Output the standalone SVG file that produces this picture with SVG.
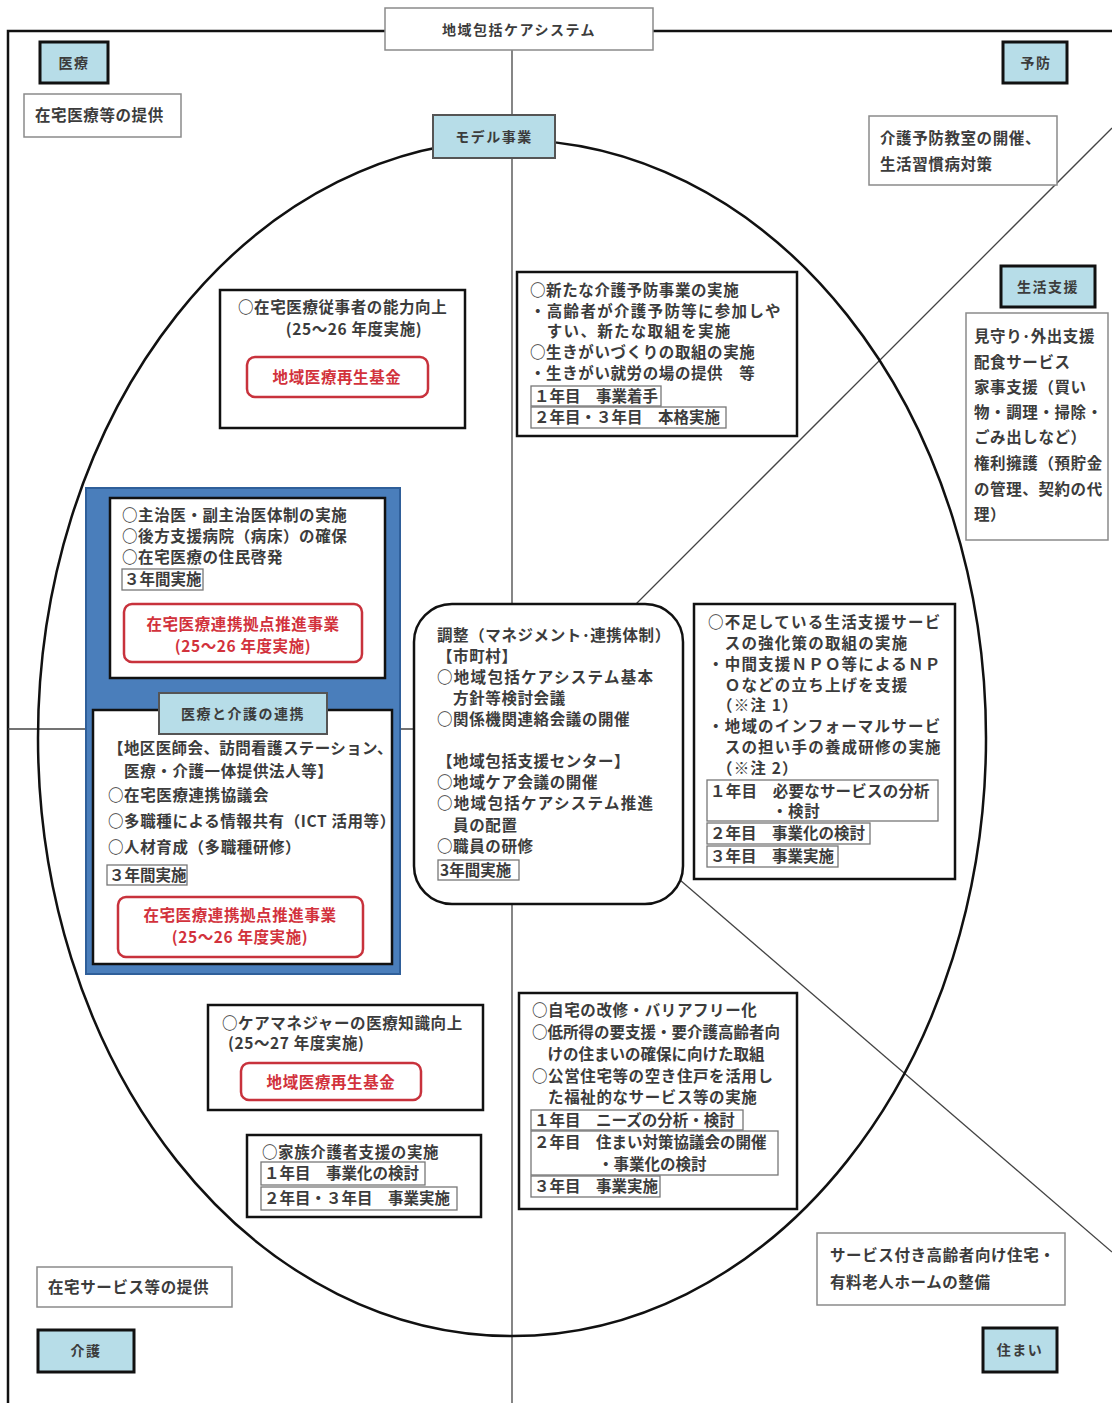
<svg xmlns="http://www.w3.org/2000/svg" width="1112" height="1403" viewBox="0 0 1112 1403">
<style>
text{font-family:"Noto Sans CJK JP","Noto Sans CJK SC",sans-serif;font-size:15.5px;font-weight:bold;fill:#3c3c3c;letter-spacing:0.6px}
.c{text-anchor:middle}
.r{fill:#d2323c}
.s{font-size:14px;letter-spacing:1.5px}
.lbl{fill:#b7dde8;stroke:#111;stroke-width:3}
.lbl2{fill:#b7dde8;stroke:#555;stroke-width:2}
.box{fill:#fff;stroke:#111;stroke-width:2.5}
.note{fill:#fff;stroke:#8a8a8a;stroke-width:1.5}
.sub{fill:none;stroke:#777;stroke-width:1.3}
.red{fill:#fff;stroke:#c8323c;stroke-width:2.5}
.ln{stroke:#444;stroke-width:1.3;fill:none}
.frame{stroke:#111;stroke-width:2.5;fill:none}
</style>
<g id="connectors">
<path class="frame" d="M8,1403 V31 H385 M653,31 H1112"/>
<path class="ln" d="M512,50 V1403"/>
<path class="ln" d="M8,729 H414"/>
<path class="ln" d="M1112,128 L636,604"/>
<path class="ln" d="M680,880 L1112,1252"/>
<ellipse cx="512" cy="738" rx="474" ry="598" fill="none" stroke="#111" stroke-width="2.5"/>
</g>
<g id="title"><rect x="385" y="8" width="268" height="42" class="note"/><text x="519" y="35" class="c s">地域包括ケアシステム</text></g>
<g id="iryo"><rect x="40" y="42" width="68" height="41" class="lbl"/><text x="74" y="68" class="c s">医療</text></g>
<g id="iryo-note"><rect x="24" y="94" width="157" height="43" class="note"/><text x="35" y="121">在宅医療等の提供</text></g>
<g id="model"><rect x="433" y="115" width="122" height="43" class="lbl2"/><text x="494" y="142" class="c s">モデル事業</text></g>
<g id="yobo"><rect x="1003" y="42" width="64" height="41" class="lbl"/><text x="1036" y="68" class="c s">予防</text></g>
<g id="yobo-note"><rect x="869" y="116" width="188" height="69" class="note"/><text x="880" y="144">介護予防教室の開催、</text><text x="880" y="170">生活習慣病対策</text></g>
<g id="seikatsu"><rect x="1001" y="266" width="94" height="41" class="lbl"/><text x="1048" y="292" class="c s">生活支援</text></g>
<g id="seikatsu-note"><rect x="966" y="313" width="142" height="227" class="note"/>
<text x="974" y="342">見守り･外出支援</text><text x="974" y="368">配食サービス</text><text x="974" y="393">家事支援（買い</text><text x="974" y="418">物・調理・掃除・</text><text x="974" y="443">ごみ出しなど）</text><text x="974" y="469">権利擁護（預貯金</text><text x="974" y="495">の管理、契約の代</text><text x="974" y="520">理）</text></g>
<g id="box-zaitaku">
<rect x="220" y="290" width="245" height="138" class="box"/>
<text x="238" y="313">○在宅医療従事者の能力向上</text>
<text x="354" y="335" class="c">(25～26 年度実施)</text>
<rect x="247" y="357" width="181" height="40" rx="8" class="red"/>
<text x="337" y="383" class="c r">地域医療再生基金</text>
</g>
<g id="box-yobo">
<rect x="517" y="272" width="280" height="164" class="box"/>
<text x="530" y="296">○新たな介護予防事業の実施</text>
<text x="530" y="317" style="letter-spacing:1.3px">・高齢者が介護予防等に参加しや</text>
<text x="530" y="337" style="letter-spacing:1.3px">　すい、新たな取組を実施</text>
<text x="530" y="358">○生きがいづくりの取組の実施</text>
<text x="530" y="379">・生きがい就労の場の提供　等</text>
<rect x="531" y="386" width="130" height="20" class="sub"/><text x="534" y="402" style="letter-spacing:0">１年目　事業着手</text>
<rect x="531" y="407" width="195" height="21" class="sub"/><text x="534" y="423" style="letter-spacing:0">２年目・３年目　本格実施</text>
</g>
<g id="box-renkei">
<rect x="86" y="488" width="314" height="486" fill="#4a7ebb" stroke="#2f5f9a" stroke-width="2"/>
<rect x="110" y="498" width="275" height="180" class="box"/>
<text x="122" y="521">○主治医・副主治医体制の実施</text>
<text x="122" y="542">○後方支援病院（病床）の確保</text>
<text x="122" y="563">○在宅医療の住民啓発</text>
<rect x="122" y="569" width="81" height="21" class="sub"/><text x="124" y="585" style="letter-spacing:0">３年間実施</text>
<rect x="124" y="604" width="238" height="58" rx="8" class="red"/>
<text x="243" y="630" class="c r">在宅医療連携拠点推進事業</text>
<text x="243" y="652" class="c r">(25～26 年度実施)</text>
<rect x="93" y="710" width="299" height="254" class="box"/>
<text x="108" y="754" style="letter-spacing:0.4px">【地区医師会、訪問看護ステーション、</text>
<text x="108" y="777">　医療・介護一体提供法人等】</text>
<text x="108" y="801">○在宅医療連携協議会</text>
<text x="108" y="827">○多職種による情報共有（ICT 活用等）</text>
<text x="108" y="853">○人材育成（多職種研修）</text>
<rect x="107" y="865" width="80" height="20" class="sub"/><text x="109" y="881" style="letter-spacing:0">３年間実施</text>
<rect x="118" y="897" width="245" height="60" rx="8" class="red"/>
<text x="240" y="921" class="c r">在宅医療連携拠点推進事業</text>
<text x="240" y="943" class="c r">(25～26 年度実施)</text>
<rect x="159" y="693" width="168" height="41" class="lbl2" stroke="#222"/>
<text x="243" y="719" class="c s">医療と介護の連携</text>
</g>
<g id="box-chosei">
<rect x="414" y="604" width="269" height="300" rx="38" class="box"/>
<text x="437" y="641">調整（マネジメント･連携体制）</text>
<text x="437" y="662">【市町村】</text>
<text x="437" y="683" style="letter-spacing:1.3px">○地域包括ケアシステム基本</text>
<text x="437" y="704">　方針等検討会議</text>
<text x="437" y="725">○関係機関連絡会議の開催</text>
<text x="437" y="767">【地域包括支援センター】</text>
<text x="437" y="788">○地域ケア会議の開催</text>
<text x="437" y="809" style="letter-spacing:1.3px">○地域包括ケアシステム推進</text>
<text x="437" y="831">　員の配置</text>
<text x="437" y="852">○職員の研修</text>
<rect x="438" y="860" width="81" height="20" class="sub"/><text x="440" y="876" style="letter-spacing:0">3年間実施</text>
</g>
<g id="box-fusoku">
<rect x="694" y="604" width="261" height="275" class="box" stroke-width="3"/>
<text x="708" y="628" style="letter-spacing:1.2px">○不足している生活支援サービ</text>
<text x="708" y="649" style="letter-spacing:1.2px">　スの強化策の取組の実施</text>
<text x="708" y="670" style="letter-spacing:1.2px">・中間支援ＮＰＯ等によるＮＰ</text>
<text x="708" y="691" style="letter-spacing:1.2px">　Ｏなどの立ち上げを支援</text>
<text x="708" y="711" style="letter-spacing:1.2px">　（※注 1）</text>
<text x="708" y="732" style="letter-spacing:1.2px">・地域のインフォーマルサービ</text>
<text x="708" y="753" style="letter-spacing:1.2px">　スの担い手の養成研修の実施</text>
<text x="708" y="774" style="letter-spacing:1.2px">　（※注 2）</text>
<rect x="707" y="780" width="231" height="41" class="sub"/>
<text x="710" y="797" style="letter-spacing:0.2px">１年目　必要なサービスの分析</text>
<text x="772" y="817">・検討</text>
<rect x="707" y="823" width="163" height="21" class="sub"/><text x="710" y="839" style="letter-spacing:0">２年目　事業化の検討</text>
<rect x="707" y="846" width="131" height="21" class="sub"/><text x="710" y="862" style="letter-spacing:0">３年目　事業実施</text>
</g>
<g id="box-caremanager">
<rect x="208" y="1005" width="275" height="105" class="box"/>
<text x="222" y="1029">○ケアマネジャーの医療知識向上</text>
<text x="228" y="1049">(25～27 年度実施)</text>
<rect x="241" y="1063" width="180" height="37" rx="8" class="red"/>
<text x="331" y="1088" class="c r">地域医療再生基金</text>
</g>
<g id="box-kazoku">
<rect x="247" y="1135" width="234" height="82" class="box"/>
<text x="262" y="1158">○家族介護者支援の実施</text>
<rect x="261" y="1162" width="164" height="23" class="sub"/><text x="264" y="1179" style="letter-spacing:0">１年目　事業化の検討</text>
<rect x="261" y="1187" width="196" height="23" class="sub"/><text x="264" y="1204" style="letter-spacing:0">２年目・３年目　事業実施</text>
</g>
<g id="box-sumai">
<rect x="519" y="993" width="278" height="216" class="box"/>
<text x="532" y="1016">○自宅の改修・バリアフリー化</text>
<text x="532" y="1038" style="letter-spacing:0">○低所得の要支援・要介護高齢者向</text>
<text x="532" y="1060" style="letter-spacing:0">　けの住まいの確保に向けた取組</text>
<text x="532" y="1082">○公営住宅等の空き住戸を活用し</text>
<text x="532" y="1103">　た福祉的なサービス等の実施</text>
<rect x="531" y="1110" width="212" height="20" class="sub"/><text x="534" y="1126" style="letter-spacing:0">１年目　ニーズの分析・検討</text>
<rect x="531" y="1131" width="247" height="44" class="sub"/><text x="534" y="1148" style="letter-spacing:0">２年目　住まい対策協議会の開催</text>
<text x="598" y="1170" style="letter-spacing:0">・事業化の検討</text>
<rect x="531" y="1176" width="129" height="21" class="sub"/><text x="534" y="1192" style="letter-spacing:0">３年目　事業実施</text>
</g>
<g id="kaigo-note"><rect x="37" y="1267" width="195" height="40" class="note"/><text x="48" y="1293">在宅サービス等の提供</text></g>
<g id="kaigo"><rect x="38" y="1330" width="96" height="42" class="lbl"/><text x="86" y="1356" class="c s">介護</text></g>
<g id="sumai-note"><rect x="817" y="1233" width="248" height="72" class="note"/><text x="830" y="1261">サービス付き高齢者向け住宅・</text><text x="830" y="1288">有料老人ホームの整備</text></g>
<g id="sumai"><rect x="983" y="1328" width="74" height="44" class="lbl"/><text x="1020" y="1355" class="c s">住まい</text></g>
</svg>
